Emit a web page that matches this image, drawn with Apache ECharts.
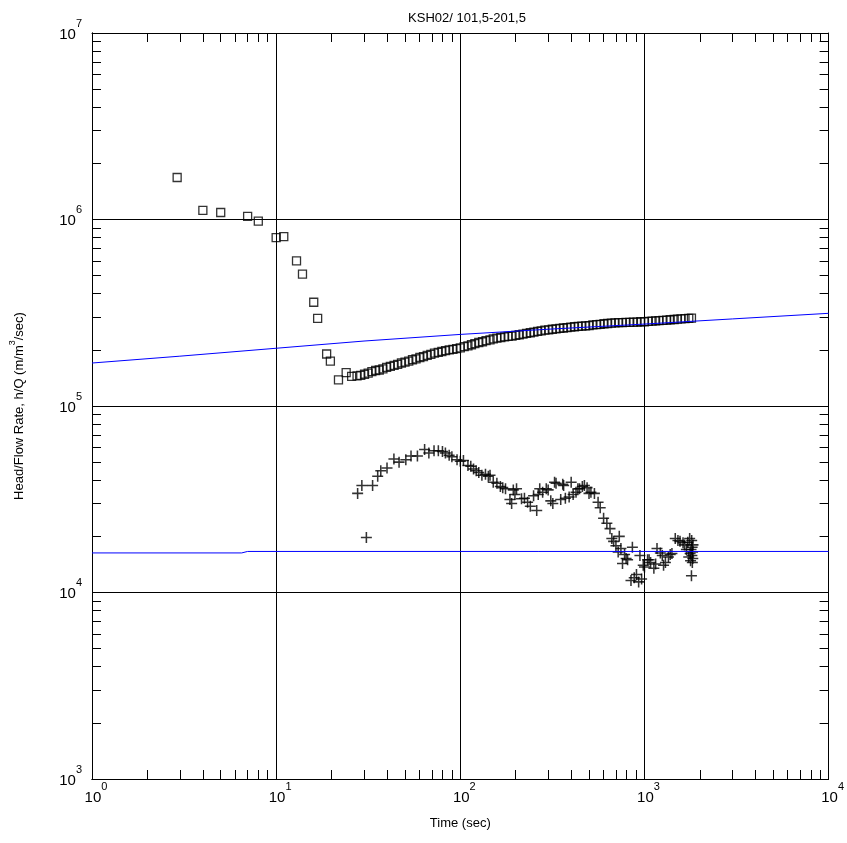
<!DOCTYPE html>
<html>
<head>
<meta charset="utf-8">
<script src="https://cdn.jsdelivr.net/npm/echarts@6/dist/echarts.min.js"></script>
<style>
html,body{margin:0;padding:0;background:#fff;}
#chart{width:847px;height:843px;}
</style>
</head>
<body>
<div id="chart"></div>
<script>
// observed h/Q (squares)
const obsTime = [2.9,4.0,5.0,7.0,8.0,10.0,11.0,12.9,13.9,16.0,16.8,18.8,19.7,21.8,24.0,25.7,
  27.5,28.8,30.2,31.6,33.1,34.7,36.3,38.0,39.8,41.7,43.7,45.7,47.9,50.1,52.5,55.0,57.5,60.3,63.1,66.1,69.2,72.4,75.9,79.4,
  83.2,87.1,91.2,95.5,100,105,110,115,120,126,132,138,145,151,158,166,174,182,191,200,209,219,229,240,251,263,275,288,
  302,316,331,347,363,380,398,417,437,457,479,501,525,550,575,603,631,661,692,724,759,794,832,871,912,955,1000,
  1050,1100,1150,1200,1260,1320,1380,1450,1510,1580,1660,1740,1800];
const obsValue = [1.68e6,1.12e6,1.09e6,1.04e6,9.8e5,8.0e5,8.1e5,6.0e5,5.1e5,3.6e5,2.95e5,1.9e5,1.74e5,1.38e5,1.51e5,1.44e5,
  1.45e5,1.46e5,1.48e5,1.5e5,1.53e5,1.55e5,1.56e5,1.58e5,1.61e5,1.63e5,1.65e5,1.67e5,1.7e5,1.72e5,1.74e5,1.77e5,1.79e5,1.82e5,1.84e5,1.87e5,1.89e5,1.92e5,1.94e5,1.96e5,
  1.98e5,2.0e5,2.01e5,2.03e5,2.05e5,2.08e5,2.1e5,2.13e5,2.16e5,2.19e5,2.21e5,2.24e5,2.26e5,2.29e5,2.31e5,2.33e5,2.35e5,2.36e5,2.37e5,2.39e5,2.41e5,2.43e5,2.45e5,2.47e5,2.49e5,2.51e5,2.53e5,2.55e5,
  2.56e5,2.58e5,2.59e5,2.61e5,2.62e5,2.63e5,2.65e5,2.66e5,2.67e5,2.68e5,2.69e5,2.7e5,2.72e5,2.73e5,2.74e5,2.76e5,2.77e5,2.78e5,2.79e5,2.8e5,2.8e5,2.81e5,2.81e5,2.82e5,2.82e5,2.83e5,2.83e5,
  2.84e5,2.85e5,2.86e5,2.87e5,2.88e5,2.89e5,2.9e5,2.91e5,2.92e5,2.93e5,2.94e5,2.95e5,2.96e5];

// derivative (crosses)
const derTime = [27.7,29.2,30.9,33.4,35.6,37,40,43.6,46.5,50.6,54,58.5,64,67.5,72,76,80,83,87,90,96,100,104,110,114,118,122,126,131,137,142,145,
  151,158,165,170,176,186,190,194,198,202,215,223,232,240,250,260,265,270,280,293,300,310,318,325,331,351,360,364,372,390,400,410,425,435,444,460,472,488,
  500,512,535,560,575,600,625,650,665,680,700,720,730,745,760,780,795,810,845,860,880,905,930,945,965,985,1000,1040,1060,1080,1125,1150,1170,1220,1250,1270,
  1300,1350,1380,1410,1470,1520,1560,1620,1650,1690,1720,1740,1760,1770,1780,1790,1800,1805,1810,1815,1820,1825,1830,1835];
const derValue = [3.4e4,3.75e4,1.97e4,3.75e4,4.2e4,4.5e4,4.65e4,5.2e4,5.0e4,5.15e4,5.4e4,5.4e4,5.85e4,5.6e4,5.75e4,5.75e4,5.7e4,5.6e4,5.45e4,5.35e4,5.15e4,5.05e4,5.1e4,4.8e4,4.75e4,4.6e4,4.5e4,4.4e4,4.25e4,4.3e4,4.2e4,4.25e4,
  3.9e4,3.85e4,3.7e4,3.65e4,3.6e4,3.15e4,3.0e4,3.55e4,3.35e4,3.6e4,3.18e4,3.2e4,3.05e4,2.9e4,3.3e4,2.75e4,3.35e4,3.6e4,3.45e4,3.6e4,3.55e4,3.1e4,3.0e4,3.9e4,3.85e4,3.15e4,3.8e4,3.75e4,3.2e4,3.25e4,3.9e4,3.35e4,3.45e4,3.6e4,3.6e4,3.7e4,3.75e4,3.65e4,
  3.4e4,3.45e4,3.4e4,3.05e4,2.85e4,2.5e4,2.35e4,2.2e4,1.95e4,1.88e4,1.78e4,1.65e4,2.0e4,1.72e4,1.43e4,1.6e4,1.52e4,1.5e4,1.16e4,1.75e4,1.2e4,1.25e4,1.14e4,1.58e4,1.18e4,1.4e4,1.37e4,1.5e4,1.5e4,1.45e4,1.35e4,1.42e4,1.72e4,1.63e4,1.58e4,1.4e4,
  1.45e4,1.55e4,1.6e4,1.62e4,1.95e4,1.9e4,1.88e4,1.85e4,1.8e4,1.7e4,1.86e4,1.55e4,1.95e4,1.62e4,1.48e4,1.7e4,1.23e4,1.9e4,1.58e4,1.75e4,1.45e4,1.65e4,1.52e4,1.8e4];

// type curves (blue)
const fitTime = [1,3,10,30,100,300,1000,3000,10000];
const fitValue = [1.7e5,1.85e5,2.04e5,2.23e5,2.42e5,2.58e5,2.75e5,2.93e5,3.14e5];
const fitDerTime = [1,6.5,7,10000];
const fitDerValue = [1.63e4,1.63e4,1.66e4,1.66e4];

// minor tick positions
const xMinor = [2,3,4,5,6,7,8,9,20,30,40,50,60,70,80,90,200,300,400,500,600,700,800,900,
  2000,3000,4000,5000,6000,7000,8000,9000];
const yMinor = [2e3,3e3,4e3,5e3,6e3,7e3,8e3,9e3,2e4,3e4,4e4,5e4,6e4,7e4,8e4,9e4,
  2e5,3e5,4e5,5e5,6e5,7e5,8e5,9e5,2e6,3e6,4e6,5e6,6e6,7e6,8e6,9e6];

const pair = (a, b) => a.map((t, i) => [t, b[i]]);
const font = 'Liberation Sans, Arial, sans-serif';

function powLabel(v) {
  const e = Math.round(Math.log10(v));
  return '{b|10}{e|' + e + '}';
}

const black = {color: '#000', width: 1};

function minorX(pos) {
  return {
    type: 'log', logBase: 10, min: 1, max: 10000, position: pos,
    axisLine: {show: true, lineStyle: black},
    axisTick: {show: true, inside: true, length: 9, customValues: xMinor, lineStyle: black},
    axisLabel: {show: false}, splitLine: {show: false}
  };
}
function minorY(pos) {
  return {
    type: 'log', logBase: 10, min: 1000, max: 1e7, position: pos,
    axisLine: {show: true, lineStyle: black},
    axisTick: {show: true, inside: true, length: 9, customValues: yMinor, lineStyle: black},
    axisLabel: {show: false}, splitLine: {show: false}
  };
}

const chart = echarts.init(document.getElementById('chart'));
chart.setOption({
  animation: false,
  backgroundColor: '#fff',
  title: {
    text: 'KSH02/ 101,5-201,5', left: 462, top: 7, textAlign: 'center',
    textStyle: {fontSize: 13, fontWeight: 'normal', fontFamily: font, color: '#000'}
  },
  grid: {left: 91, right: 15, top: 33, bottom: 64},
  xAxis: [
    {
      type: 'log', logBase: 10, min: 1, max: 10000, position: 'bottom',
      axisLine: {show: true, lineStyle: black},
      axisTick: {show: false},
      axisLabel: {
        show: true, formatter: powLabel, margin: 2, color: '#000',
        rich: {
          b: {fontSize: 15, fontFamily: font, color: '#000', padding: [0, 0, 0, 8], lineHeight: 24, verticalAlign: 'bottom'},
          e: {fontSize: 11, fontFamily: font, color: '#000', lineHeight: 12, verticalAlign: 'top'}
        }
      },
      splitLine: {show: true, lineStyle: black},
      name: 'Time (sec)', nameLocation: 'middle', nameGap: 38,
      nameTextStyle: {fontSize: 13, fontFamily: font, color: '#000'}
    },
    minorX('top'),
    minorX('bottom')
  ],
  yAxis: [
    {
      type: 'log', logBase: 10, min: 1000, max: 1e7, position: 'left',
      axisLine: {show: true, lineStyle: black},
      axisTick: {show: false},
      axisLabel: {
        show: true, formatter: powLabel, margin: 10, color: '#000', padding: [0, 0, 6, 0],
        rich: {
          b: {fontSize: 15, fontFamily: font, color: '#000', lineHeight: 24, verticalAlign: 'bottom'},
          e: {fontSize: 11, fontFamily: font, color: '#000', lineHeight: 16, verticalAlign: 'top'}
        }
      },
      splitLine: {show: true, lineStyle: black},
      name: '{a|Head/Flow Rate, h/Q (m/m}{s|3}{a|/sec)}',
      nameLocation: 'middle', nameGap: 66,
      nameTextStyle: {
        rich: {
          a: {fontSize: 13, fontFamily: font, color: '#000', lineHeight: 18, verticalAlign: 'bottom'},
          s: {fontSize: 9, fontFamily: font, color: '#000', lineHeight: 10, verticalAlign: 'top'}
        }
      }
    },
    minorY('right'),
    minorY('left')
  ],
  series: [
    {
      type: 'line', data: pair(fitTime, fitValue), showSymbol: false,
      lineStyle: {color: '#0000ff', width: 1}, z: 3
    },
    {
      type: 'line', data: pair(fitDerTime, fitDerValue), showSymbol: false,
      lineStyle: {color: '#0000ff', width: 1}, z: 3
    },
    {
      type: 'scatter', data: pair(obsTime, obsValue), symbol: 'rect', symbolSize: 8,
      itemStyle: {color: 'rgba(0,0,0,0)', borderColor: '#000', borderWidth: 1.3}, z: 2
    },
    {
      type: 'scatter', data: pair(derTime, derValue),
      symbol: 'path://M0,4.3H10V5.7H0Z M4.3,0H5.7V10H4.3Z', symbolSize: 11,
      itemStyle: {color: '#000'}, z: 2
    }
  ]
});
</script>
</body>
</html>
